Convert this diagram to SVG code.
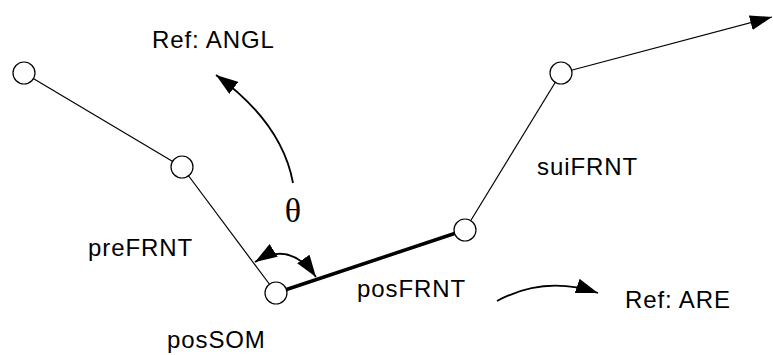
<svg xmlns="http://www.w3.org/2000/svg" width="773" height="355" viewBox="0 0 773 355">
<style>
.lbl{font-family:"Liberation Sans",Arial,sans-serif;font-size:24px;letter-spacing:0.9px;fill:#000}
.node{fill:#fff;stroke:#000;stroke-width:1.2}
.seg{stroke:#000;stroke-width:1.2;fill:none}
.thick{stroke:#000;stroke-width:3.5;fill:none}
.arc{stroke:#000;stroke-width:1.8;fill:none}
</style>
<defs>
<marker id="ah" markerUnits="userSpaceOnUse" markerWidth="24" markerHeight="16" refX="22" refY="7.5" orient="auto-start-reverse" viewBox="0 0 24 16">
<path d="M0,0 L22,7.5 L0,15 z" fill="#000"/>
</marker>
</defs>
<g id="connectors">
<line class="seg" x1="24" y1="73" x2="182" y2="167"/>
<line class="seg" x1="182" y1="167" x2="276" y2="293"/>
<line class="thick" x1="276" y1="293" x2="465" y2="230"/>
<line class="seg" x1="465" y1="230" x2="561" y2="73"/>
<line class="seg" x1="561" y1="73" x2="772" y2="17" marker-end="url(#ah)"/>
<path class="arc" d="M293,183 Q282,123 216,75" marker-end="url(#ah)"/>
<path class="arc" d="M255,262 Q290,240 316,277" marker-start="url(#ah)" marker-end="url(#ah)"/>
<path class="arc" d="M497,301 Q545,275 598,293" marker-end="url(#ah)"/>
</g>
<g id="n1"><circle class="node" cx="24" cy="73" r="11"/></g>
<g id="n2"><circle class="node" cx="182" cy="167" r="11"/></g>
<g id="posSOM"><circle class="node" cx="276" cy="293" r="11"/></g>
<g id="n4"><circle class="node" cx="465" cy="230" r="11"/></g>
<g id="n5"><circle class="node" cx="561" cy="73" r="11"/></g>
<g id="labels">
<text class="lbl" x="152" y="48">Ref: ANGL</text>
<text class="lbl" x="88" y="256">preFRNT</text>
<text class="lbl" x="167" y="348">posSOM</text>
<text class="lbl" x="357" y="297">posFRNT</text>
<text class="lbl" x="537" y="175">suiFRNT</text>
<text class="lbl" x="625" y="308">Ref: ARE</text>
<text x="293" y="222" text-anchor="middle" style="font-family:'Liberation Serif','Times New Roman',serif;font-size:34px;fill:#000">θ</text>
</g>
</svg>
